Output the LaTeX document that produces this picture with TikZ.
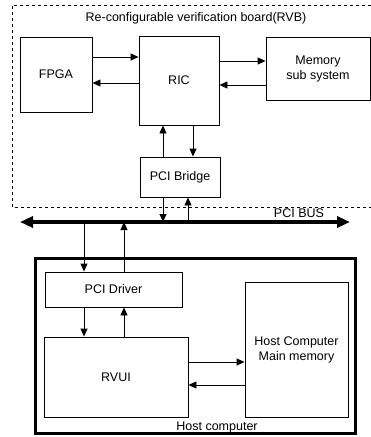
\documentclass[tikz,border=0pt]{standalone}
\usepackage{fontspec}
\setmainfont{Liberation Sans}
\usepackage{tikz}
\usetikzlibrary{arrows.meta,positioning}

\begin{document}
\begin{tikzpicture}[x=1pt,y=-1pt,
  every node/.style={font=\fontsize{12.5}{15}\selectfont,align=center},
  blk/.style={draw,line width=0.9pt,inner sep=0pt},
  arr/.style={draw,line width=0.9pt,-{Triangle[length=8pt,width=7pt]}},
  bus/.style={draw,line width=3.6pt,{Triangle[length=13pt,width=11pt]}-{Triangle[length=13pt,width=11pt]}}]
\useasboundingbox (0,0) rectangle (371,437);
% RVB board
\draw[dashed,line width=0.9pt] (371,5) -- (12,5) -- (12,207) -- (371,207);
\node (rvb) at (196,18) {Re-configurable verification board(RVB)};
\node[blk,minimum width=72pt,minimum height=75pt] (fpga) at (56,74.5) {FPGA};
\node[blk,minimum width=80pt,minimum height=89pt] (ric) at (179,80.5) {RIC};
\node[blk,minimum width=104pt,minimum height=63pt] (mem) at (318,68.5) {Memory\\sub system};
\node[blk,minimum width=80pt,minimum height=40pt] (bridge) at (180,177) {PCI Bridge};
% PCI bus
\coordinate (busL) at (20,222);
\coordinate (busR) at (350,222);
\draw[bus] (busL) -- (busR);
\node (buslbl) at (299,213) {PCI BUS};
\coordinate (tapA) at (163,222);
\coordinate (tapB) at (188,222);
\coordinate (tapC) at (84,222);
\coordinate (tapD) at (124,222);
% host computer
\node[draw,line width=3pt,minimum width=320pt,minimum height=175pt] (host) at (195,345.5) {};
\node (hostlbl) at (217,427) {Host computer};
\node[blk,minimum width=137pt,minimum height=35pt] (drv) at (113.5,289.5) {PCI Driver};
\node[blk,minimum width=144pt,minimum height=80pt] (rvui) at (116,377) {RVUI};
\node[blk,minimum width=103pt,minimum height=135pt] (hmem) at (296.5,349.5) {Host Computer\\Main memory};
% connectors
\draw[arr] ([yshift=17.5pt]fpga.east) -- ([yshift=23.5pt]ric.west);
\draw[arr] ([yshift=-2.5pt]ric.west) -- ([yshift=-8.5pt]fpga.east);
\draw[arr] ([yshift=19.5pt]ric.east) -- ([yshift=7.5pt]mem.west);
\draw[arr] ([yshift=-16.5pt]mem.west) -- ([yshift=-4.5pt]ric.east);
\draw[arr] ([xshift=-17pt]bridge.north) -- ([xshift=-16pt]ric.south);
\draw[arr] ([xshift=14pt]ric.south) -- ([xshift=13pt]bridge.north);
\draw[arr] ([xshift=-17pt]bridge.south) -- (tapA);
\draw[arr] (tapB) -- ([xshift=8pt]bridge.south);
\draw[arr] (tapC) -- ([xshift=-29.5pt]drv.north);
\draw[arr] ([xshift=10.5pt]drv.north) -- (tapD);
\draw[arr] ([xshift=-29.5pt]drv.south) -- ([xshift=-32pt]rvui.north);
\draw[arr] ([xshift=8pt]rvui.north) -- ([xshift=10.5pt]drv.south);
\draw[arr] ([yshift=15pt]rvui.east) -- ([yshift=-12.5pt]hmem.west);
\draw[arr] ([yshift=-35.5pt]hmem.west) -- ([yshift=-8pt]rvui.east);
\end{tikzpicture}
\end{document}
